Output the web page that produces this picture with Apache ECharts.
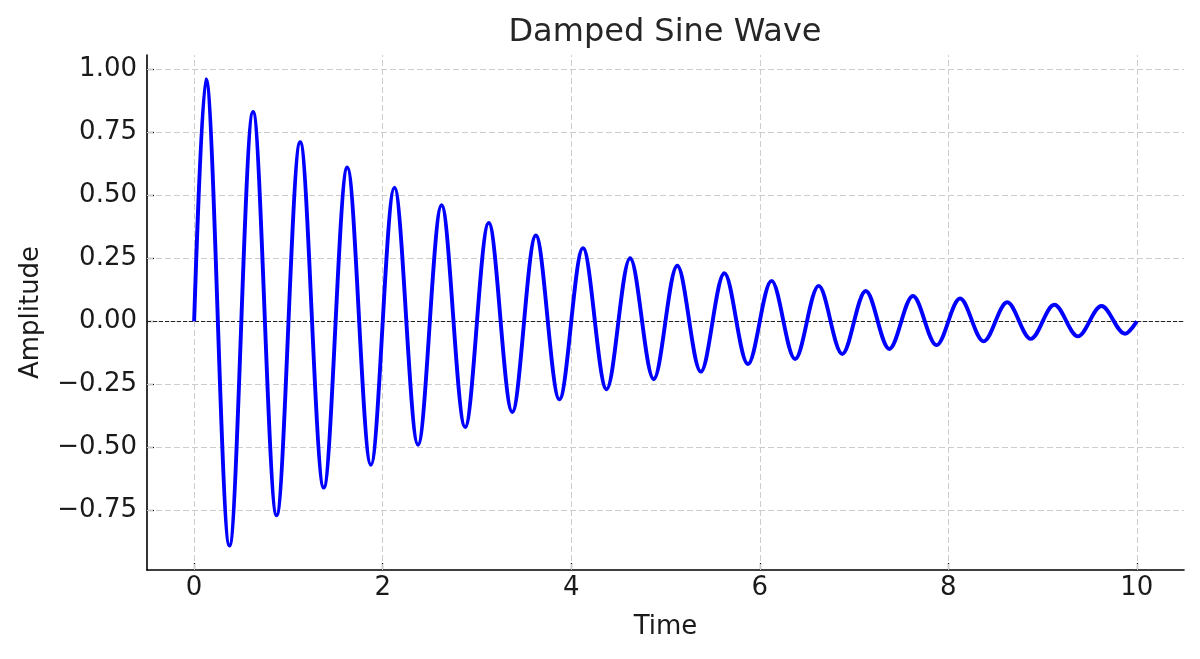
<!DOCTYPE html>
<html>
<head>
<meta charset="utf-8">
<script src="https://cdn.jsdelivr.net/npm/echarts@6/dist/echarts.min.js"></script>
<style>
  html, body { margin: 0; padding: 0; background: #fff; }
  #chart { width: 1200px; height: 659px; }
</style>
</head>
<body>
<div id="chart"></div>
<script>
// values
var startTime = 0;
var endTime = 10;
var firstCrestTime = 0.125;
var halfPeriod = 0.25;       // gap between a crest and the next trough
var crestValues = [ 0.96, -0.89, 0.83, -0.77, 0.71, -0.66, 0.61, -0.57, 0.53, -0.49,
                    0.46, -0.42, 0.39, -0.36, 0.34, -0.31, 0.29, -0.27, 0.25, -0.23,
                    0.22, -0.20, 0.19, -0.17, 0.16, -0.15, 0.14, -0.13, 0.12, -0.11,
                    0.10, -0.095, 0.09, -0.08, 0.075, -0.07, 0.065, -0.06, 0.06, -0.05 ];
var xTicks = [0, 2, 4, 6, 8, 10];
var yTicks = [-0.75, -0.5, -0.25, 0, 0.25, 0.5, 0.75, 1.0];

// start, every crest / trough, end
var wave = [[startTime, 0]];
for (var i = 0; i < crestValues.length; i++) {
    wave.push([firstCrestTime + i * halfPeriod, crestValues[i]]);
}
wave.push([endTime, 0]);

var gridLines = [];
xTicks.forEach(function (v) { gridLines.push({ xAxis: v }); });
yTicks.forEach(function (v) { gridLines.push({ yAxis: v }); });

var font = 'DejaVu Sans';
var chart = echarts.init(document.getElementById('chart'));
var option = {
    animation: false,
    backgroundColor: '#fff',
    title: {
        text: 'Damped Sine Wave',
        left: 660, top: 12, textAlign: 'center',
        textStyle: { fontFamily: font, fontSize: 32, fontWeight: 'normal', color: '#262626' }
    },
    grid: { left: 147, right: 16, top: 55, bottom: 89 },
    xAxis: {
        type: 'value', min: -0.5, max: 10.5,
        name: 'Time', nameLocation: 'middle', nameGap: 44,
        nameTextStyle: { fontFamily: font, fontSize: 26, color: '#1a1a1a' },
        axisLine: { show: true, onZero: false, lineStyle: { color: '#000', width: 1.6 } },
        axisTick: { show: true, inside: true, customValues: xTicks, length: 7, lineStyle: { color: '#000', width: 1.2 } },
        axisLabel: { customValues: xTicks, fontFamily: font, fontSize: 26, color: '#1a1a1a', margin: 5 },
        splitLine: { show: false }
    },
    yAxis: {
        type: 'value', min: -0.987, max: 1.056,
        name: 'Amplitude', nameLocation: 'middle', nameGap: 103, nameRotate: 90,
        nameTextStyle: { fontFamily: font, fontSize: 26, color: '#1a1a1a' },
        axisLine: { show: true, onZero: false, lineStyle: { color: '#000', width: 1.6 } },
        axisTick: { show: true, inside: true, customValues: yTicks, length: 7, lineStyle: { color: '#000', width: 1.2 } },
        axisLabel: {
            customValues: yTicks, fontFamily: font, fontSize: 26, color: '#1a1a1a', margin: 10,
            formatter: function (v) { return v.toFixed(2).replace('-', '\u2212'); }
        },
        splitLine: { show: false }
    },
    series: [
        {
            type: 'line', data: [], silent: true,
            markLine: {
                silent: true, symbol: 'none', label: { show: false },
                lineStyle: { color: '#cccccc', width: 1, type: [6, 3] },
                data: gridLines
            }
        },
        {
            type: 'line', data: [], silent: true,
            markLine: {
                silent: true, symbol: 'none', label: { show: false },
                lineStyle: { color: '#222', width: 1.1, type: [4, 2] },
                data: [{ yAxis: 0 }]
            }
        },
        {
            name: 'Damped Sine Wave',
            type: 'line',
            data: wave,
            smooth: 0.34,
            showSymbol: false,
            lineStyle: { color: '#0000ff', width: 3.9 },
            z: 5
        }
    ]
};
chart.setOption(option);
</script>
</body>
</html>
